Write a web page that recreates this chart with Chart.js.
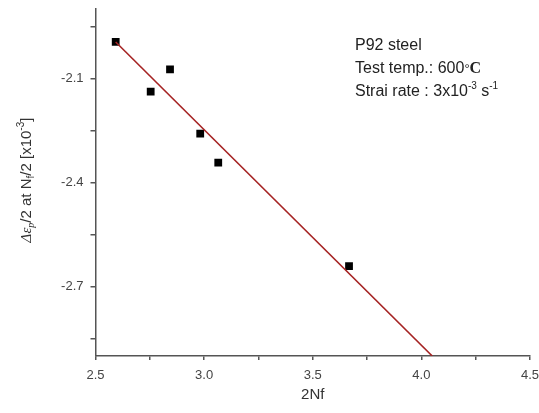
<!DOCTYPE html>
<html>
<head>
<meta charset="utf-8">
<script src="https://cdn.jsdelivr.net/npm/chart.js@4.4.1/dist/chart.umd.min.js"></script>
<style>
  body { margin: 0; background: #fff; }
  canvas { display: block; }
</style>
</head>
<body>
<canvas id="fatigue-chart" width="539" height="413"></canvas>
<script>
// measured points: 2Nf vs plastic strain amplitude
const cycles = [2.593, 2.754, 2.843, 2.982, 3.065, 3.667];
const strainAmp = [-1.995, -2.138, -2.074, -2.259, -2.343, -2.641];

// fitted line end points
const fitX = [2.593, 4.05];
const fitY = [-1.995, -2.9];

// axis ticks (minor ones get no label)
const xTicks = [2.5, 2.75, 3.0, 3.25, 3.5, 3.75, 4.0, 4.25, 4.5];
const xLabels = ['2.5', '', '3.0', '', '3.5', '', '4.0', '', '4.5'];
const yTicks = [-2.85, -2.7, -2.55, -2.4, -2.25, -2.1, -1.95];
const yLabels = ['', '-2.7', '', '-2.4', '', '-2.1', ''];

const axisColor = '#555';
const sans = '"Liberation Sans", Arial, sans-serif';
const serif = '"Liberation Serif", "Times New Roman", serif';

// draws a run of text pieces, each with its own font and baseline shift
function drawRuns(ctx, runs, x, y, center) {
    let total = 0;
    runs.forEach(r => { ctx.font = r.font; total += ctx.measureText(r.text).width; });
    let cx = center ? x - total / 2 : x;
    runs.forEach(r => {
        ctx.font = r.font;
        ctx.fillText(r.text, cx, y + (r.dy || 0));
        cx += ctx.measureText(r.text).width;
    });
}

const textPlugin = {
    id: 'chartText',
    afterDraw(chart) {
        const ctx = chart.ctx;
        const area = chart.chartArea;
        ctx.save();
        ctx.fillStyle = '#333';
        ctx.textBaseline = 'alphabetic';
        ctx.textAlign = 'left';

        // x title
        drawRuns(ctx, [{ text: '2Nf', font: '15px ' + sans }], (area.left + area.right) / 2, 399, true);

        // y title, rotated
        ctx.save();
        ctx.translate(31, 180);
        ctx.rotate(-Math.PI / 2);
        drawRuns(ctx, [
            { text: '\u0394\u03b5', font: 'italic 15px ' + serif },
            { text: 'p', font: 'italic 10px ' + serif, dy: 3 },
            { text: '/2 at N', font: '15px ' + sans },
            { text: 'f', font: '10px ' + sans, dy: 3 },
            { text: '/2 [x10', font: '15px ' + sans },
            { text: '-3', font: '10px ' + sans, dy: -7 },
            { text: ']', font: '15px ' + sans }
        ], 0, 0, true);
        ctx.restore();

        // test conditions
        ctx.fillStyle = '#222';
        drawRuns(ctx, [{ text: 'P92 steel', font: '16px ' + sans }], 355, 50, false);
        drawRuns(ctx, [
            { text: 'Test temp.: 600', font: '16px ' + sans },
            { text: '\u00b0', font: '13px ' + sans },
            { text: 'C', font: 'bold 16px ' + serif }
        ], 355, 73, false);
        drawRuns(ctx, [
            { text: 'Strai rate : 3x10', font: '16px ' + sans },
            { text: '-3', font: '10px ' + sans, dy: -7 },
            { text: ' s', font: '16px ' + sans },
            { text: '-1', font: '10px ' + sans, dy: -7 }
        ], 355, 96, false);
        ctx.restore();
    }
};

const ctx = document.getElementById('fatigue-chart').getContext('2d');
new Chart(ctx, {
    type: 'scatter',
    data: {
        datasets: [
            {
                label: 'fit',
                data: fitX.map((x, i) => ({ x, y: fitY[i] })),
                showLine: true,
                borderColor: 'rgb(165, 35, 35)',
                borderWidth: 1.6,
                pointRadius: 0,
                order: 0
            },
            {
                label: 'data',
                data: cycles.map((x, i) => ({ x, y: strainAmp[i] })),
                pointStyle: 'rect',
                pointRadius: 5.5,
                backgroundColor: '#000',
                borderWidth: 0,
                order: 1
            }
        ]
    },
    options: {
        responsive: false,
        animation: false,
        layout: { padding: { top: 9, right: 9, left: 0, bottom: 0 } },
        plugins: {
            legend: { display: false },
            tooltip: { enabled: false }
        },
        scales: {
            x: {
                type: 'linear',
                min: 2.5,
                max: 4.5,
                afterFit: scale => {
                    scale.height = 57;
                    scale.paddingLeft = 0;
                    scale.paddingRight = 0;
                },
                afterBuildTicks: scale => { scale.ticks = xTicks.map(v => ({ value: v })); },
                ticks: {
                    autoSkip: false,
                    maxRotation: 0,
                    padding: 8,
                    color: '#444',
                    font: { family: sans, size: 13 },
                    callback: (v, i) => xLabels[i]
                },
                grid: { drawOnChartArea: false, tickLength: 4, color: axisColor, lineWidth: 1.5 },
                border: { color: axisColor, width: 1.5 }
            },
            y: {
                type: 'linear',
                min: -2.9,
                max: -1.9,
                afterFit: scale => {
                    scale.width = 95.5;
                    scale.paddingTop = 0;
                    scale.paddingBottom = 0;
                },
                afterBuildTicks: scale => { scale.ticks = yTicks.map(v => ({ value: v })); },
                ticks: {
                    autoSkip: false,
                    padding: 7,
                    color: '#444',
                    font: { family: sans, size: 13 },
                    callback: (v, i) => yLabels[i]
                },
                grid: { drawOnChartArea: false, tickLength: 5, color: axisColor, lineWidth: 1.5 },
                border: { color: axisColor, width: 1.5 }
            }
        }
    },
    plugins: [textPlugin]
});
</script>
</body>
</html>
